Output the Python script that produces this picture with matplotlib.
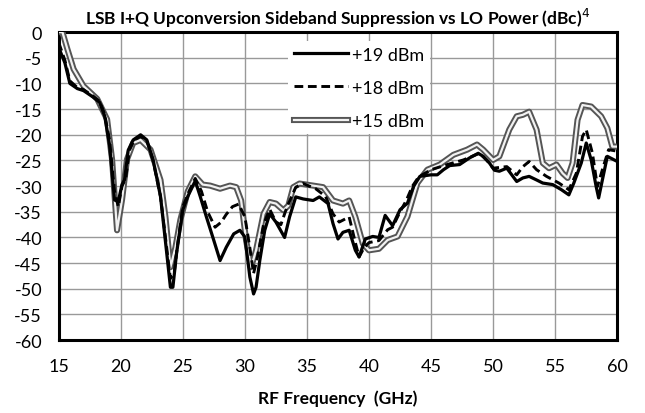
import matplotlib
matplotlib.use("Agg")
import matplotlib.pyplot as plt
import matplotlib.patheffects as pe

plt.rcParams['font.family'] = ['Lato', 'DejaVu Sans']

freq_19 = [15.0, 15.5, 15.9, 16.5, 17.0, 17.8, 18.3, 18.7, 19.1, 19.5, 19.8, 20.1, 20.3, 20.6, 21.0, 21.6,
           22.1, 22.6, 23.2, 23.7, 24.0, 24.2, 24.5, 25.0, 25.4, 26.0, 26.4, 26.9, 27.5, 28.0, 28.5, 29.1,
           29.6, 30.0, 30.4, 30.7, 30.9, 31.2, 31.6, 32.0, 32.5, 33.2, 33.6, 34.1, 34.7, 35.5, 36.0, 36.7,
           37.1, 37.5, 37.9, 38.4, 38.9, 39.2, 39.7, 40.3, 40.8, 41.3, 41.9, 42.5, 43.1, 43.6, 44.1, 45.0,
           45.5, 46.0, 46.5, 47.3, 48.1, 48.8, 49.2, 49.7, 50.1, 50.5, 51.1, 51.5, 51.9, 52.4, 52.9, 53.5,
           54.0, 54.8, 55.5, 56.1, 56.5, 57.1, 57.5, 57.9, 58.3, 58.5, 58.8, 59.2, 60.0]
ssb_19 = [-3, -6, -10, -11, -11.4, -12.7, -13.7, -16.3, -22, -32.7, -33, -29.7, -28.8, -23, -21, -20,
          -21, -24.8, -32, -43, -49.7, -49.7, -43, -34.6, -32, -29, -32, -36, -40.6, -44.5, -41.9, -39.3,
          -38.6, -39.9, -47.7, -51, -49.7, -44.5, -38.6, -35.4, -37, -40, -36, -32.1, -32.5, -32.8, -32.1, -33.4,
          -37.3, -40.3, -39, -38.6, -42.5, -43.8, -40.3, -39.8, -40, -35.7, -37.7, -34.6, -33.3, -30, -28.1, -27.8,
          -27.8, -26.8, -26, -25.8, -24.5, -23.6, -24.2, -25.5, -26.9, -27.1, -26.5, -27.8, -29.1, -28.4, -28.1, -28.8,
          -29.4, -29.7, -30.7, -31.7, -29.4, -25.5, -21.6, -24.9, -30.1, -32.3, -28.8, -24.2, -25.2]

freq_18 = [15.0, 15.5, 15.9, 16.5, 17.0, 17.8, 18.3, 18.7, 19.1, 19.5, 19.8, 20.1, 20.4, 20.7, 21.1, 21.6,
           22.1, 22.6, 23.2, 23.7, 24.0, 24.3, 24.6, 25.0, 25.5, 26.0, 26.5, 27.0, 27.6, 28.1, 28.5, 29.0,
           29.5, 30.0, 30.4, 30.7, 31.0, 31.5, 32.0, 32.5, 32.9, 33.4, 34.1, 34.7, 35.7, 36.5, 37.1, 37.6,
           38.0, 38.4, 38.9, 39.2, 39.6, 40.0, 40.8, 41.5, 41.9, 42.5, 43.0, 43.5, 44.0, 45.0, 46.3, 47.6,
           48.9, 49.5, 50.0, 51.1, 51.9, 52.4, 52.9, 53.5, 54.3, 55.3, 56.1, 56.7, 57.2, 57.5, 58.0, 58.4,
           58.8, 59.3, 60.0]
ssb_18 = [-2, -5.5, -9.5, -10.8, -11.2, -12.5, -13.5, -16, -21, -31, -34, -30, -28.5, -23, -21, -20.3,
          -21.2, -25, -32, -42, -48, -47, -41, -34, -31, -28.5, -31, -35, -38, -37, -35.5, -34,
          -33.5, -36, -42, -47, -44, -37.5, -34.5, -37, -37.5, -34, -30.2, -29.5, -30.5, -32, -35.4, -37,
          -36.5, -36, -41, -43.8, -42, -41, -40.6, -38.5, -38, -35, -32.8, -30, -28.2, -26.8, -25.8, -24.9,
          -23.6, -25, -26.5, -26.2, -27.8, -26.2, -25.2, -26.8, -28.1, -29.4, -30.7, -27.5, -20.3, -19, -23.6, -30.1,
          -26.8, -22.9, -23.2]

freq_15 = [15.0, 15.3, 15.7, 16.2, 17.0, 18.1, 18.9, 19.3, 19.7, 20.1, 20.5, 21.0, 21.6, 22.4, 23.2, 23.6,
           24.0, 24.4, 24.8, 25.4, 26.0, 26.6, 27.2, 28.0, 28.8, 29.3, 29.7, 30.1, 30.5, 30.9, 31.5, 32.0,
           32.5, 33.1, 33.5, 33.9, 34.4, 35.5, 36.3, 37.1, 37.9, 38.4, 38.9, 39.5, 40.0, 40.8, 41.5, 42.3,
           43.1, 43.9, 44.7, 45.7, 46.8, 47.9, 48.7, 49.2, 50.0, 50.5, 51.3, 51.9, 52.4, 52.9, 53.5, 54.0,
           54.5, 55.1, 55.6, 56.0, 56.4, 56.8, 57.2, 57.9, 58.7, 59.2, 59.6, 60.0]
ssb_15 = [0, 0, -3.3, -7.2, -10.5, -13, -17, -24.8, -38.6, -32.7, -24.8, -21.6, -21, -22.9, -28.8, -36,
          -45.8, -42, -36.6, -31, -28.1, -29.7, -29.9, -30.5, -29.9, -30.2, -32.8, -40.6, -45.8, -42.5, -35.4, -33.1,
          -33.4, -34.7, -33.8, -30.2, -29.5, -29.9, -30.2, -32.8, -33.4, -32.8, -36, -41.2, -42.5, -42.2, -40.5, -39.8,
          -35.9, -29.4, -26.8, -25.8, -23.9, -22.9, -21.9, -22.9, -24.9, -24.2, -19, -16.4, -16.1, -15.5, -19, -25.5,
          -26.5, -25.8, -27.5, -28.4, -25.5, -17.1, -14.2, -14.5, -16.4, -18.7, -22.3, -22.3]

x_ticks = [15, 20, 25, 30, 35, 40, 45, 50, 55, 60]
y_ticks = list(range(0, -61, -5))

fig = plt.figure(figsize=(6.45, 4.14), dpi=100)
ax = fig.add_axes([0.091, 0.176, 0.866, 0.744])

ax.plot(freq_15, ssb_15, color='#f2f2f2', lw=1.6, label='+15 dBm', zorder=3,
        path_effects=[pe.Stroke(linewidth=4.4, foreground='#555555'), pe.Normal()])
ax.plot(freq_19, ssb_19, color='black', lw=2.3, label='+19 dBm', zorder=4)
ax.plot(freq_18, ssb_18, color='black', lw=2.1, ls=(0, (3, 1.6)), label='+18 dBm', zorder=5)

ax.set_xlim(15, 60)
ax.set_ylim(-60, 0)
ax.set_xticks(x_ticks)
ax.set_yticks(y_ticks)
ax.set_xticklabels([str(v) for v in x_ticks])
ax.set_yticklabels([str(v) for v in y_ticks])
ax.tick_params(length=0, labelsize=13)
ax.tick_params(axis='x', pad=13)
ax.tick_params(axis='y', pad=12)
ax.grid(True, color='#999999', lw=1.0)
ax.set_axisbelow(True)
for s in ax.spines.values():
    s.set_linewidth(2.2)
    s.set_color('black')

ax.set_title('LSB I+Q Upconversion Sideband Suppression vs LO Power (dBc)$^4$',
             fontsize=12.5, fontweight='bold', pad=6)
ax.set_xlabel('RF Frequency  (GHz)', fontsize=12.5, fontweight='bold', labelpad=11)

h, l = ax.get_legend_handles_labels()
order = [1, 2, 0]
leg = ax.legend([h[i] for i in order], [l[i] for i in order], loc='upper left',
                bbox_to_anchor=(0.395, 1.0), frameon=True, fontsize=13,
                handlelength=3.0, labelspacing=0.95, handletextpad=0.25, borderpad=0.3)
leg.get_frame().set_edgecolor('none')
leg.get_frame().set_facecolor('white')
leg.get_frame().set_alpha(1)

fig.savefig('out.png', dpi=100)
